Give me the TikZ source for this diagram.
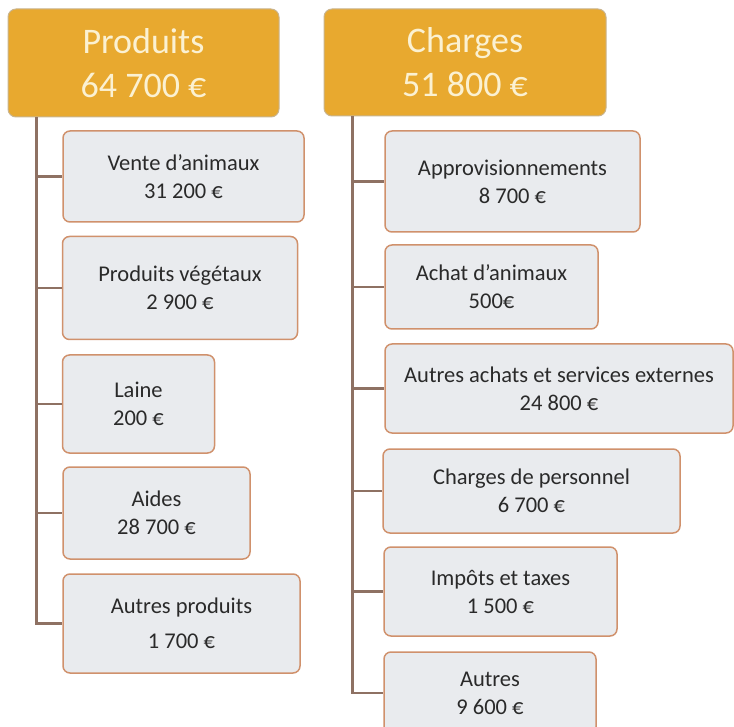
\documentclass[tikz,border=0pt]{standalone}
\usepackage{fontspec}
\setmainfont{Carlito}
\definecolor{headfill}{HTML}{E8A92F}
\definecolor{headborder}{HTML}{C9B48E}
\definecolor{headtext}{HTML}{FBF1D2}
\definecolor{leaffill}{HTML}{E9EBEE}
\definecolor{leafborder}{HTML}{D0916C}
\definecolor{leaftext}{HTML}{2A2A2A}
\definecolor{linkcol}{HTML}{8E7163}
\begin{document}
\begin{tikzpicture}[x=1pt,y=-1pt,
  head/.style={draw=headborder, fill=headfill, rounded corners=8pt, text=headtext,
    font=\fontsize{36}{44}\selectfont, align=center, line width=1pt, inner sep=0pt},
  leaf/.style={draw=leafborder, fill=leaffill, rounded corners=7pt, text=leaftext,
    font=\fontsize{22.5}{28}\selectfont, align=center, line width=1.5pt, inner sep=0pt},
  link/.style={draw=linkcol, line width=2.4pt}]
\useasboundingbox (0,0) rectangle (734,727);
% headers
\node[head, minimum width=271pt, minimum height=108pt] (ph) at (143.5,63) {Produits\\64 700 €};
\node[head, minimum width=282pt, minimum height=107pt] (ch) at (465,62.5) {Charges\\51 800 €};
% trunk coordinates
\path (ph.south west) ++(29,0) coordinate (pt);
\path (ch.south west) ++(29,0) coordinate (ct);
% Produits children
\node[leaf, minimum width=241pt, minimum height=91pt] (p1) at (183.5,176.5) {Vente d’animaux\\31 200 €};
\node[leaf, minimum width=235pt, minimum height=103pt] (p2) at (180,288) {Produits végétaux\\2 900 €};
\node[leaf, minimum width=152pt, minimum height=98pt] (p3) at (138.5,404) {Laine\\200 €};
\node[leaf, minimum width=187pt, minimum height=92pt] (p4) at (156.5,513) {Aides\\28 700 €};
\node[leaf, minimum width=237pt, minimum height=99pt, font=\fontsize{22.5}{35}\selectfont] (p5) at (181.5,623.5) {Autres produits\\1 700 €};
% Charges children
\node[leaf, minimum width=255pt, minimum height=101pt] (c1) at (512.5,181.5) {Approvisionnements\\8 700 €};
\node[leaf, minimum width=213pt, minimum height=84pt] (c2) at (491.5,287) {Achat d’animaux\\500€};
\node[leaf, minimum width=348pt, minimum height=89pt] (c3) at (559,388.5) {Autres achats et services externes\\24 800 €};
\node[leaf, minimum width=297pt, minimum height=84pt] (c4) at (531.5,491) {Charges de personnel\\6 700 €};
\node[leaf, minimum width=233pt, minimum height=89pt] (c5) at (500.5,591.5) {Impôts et taxes\\1 500 €};
\node[leaf, minimum width=212pt, minimum height=82pt] (c6) at (490,693) {Autres\\9 600 €};
% connectors
\draw[link] (pt) |- (p5.west);
\foreach \n in {p1,p2,p3,p4} \draw[link] (pt |- \n.west) -- (\n.west);
\draw[link] (ct) |- (c6.west);
\foreach \n in {c1,c2,c3,c4,c5} \draw[link] (ct |- \n.west) -- (\n.west);
\end{tikzpicture}
\end{document}
